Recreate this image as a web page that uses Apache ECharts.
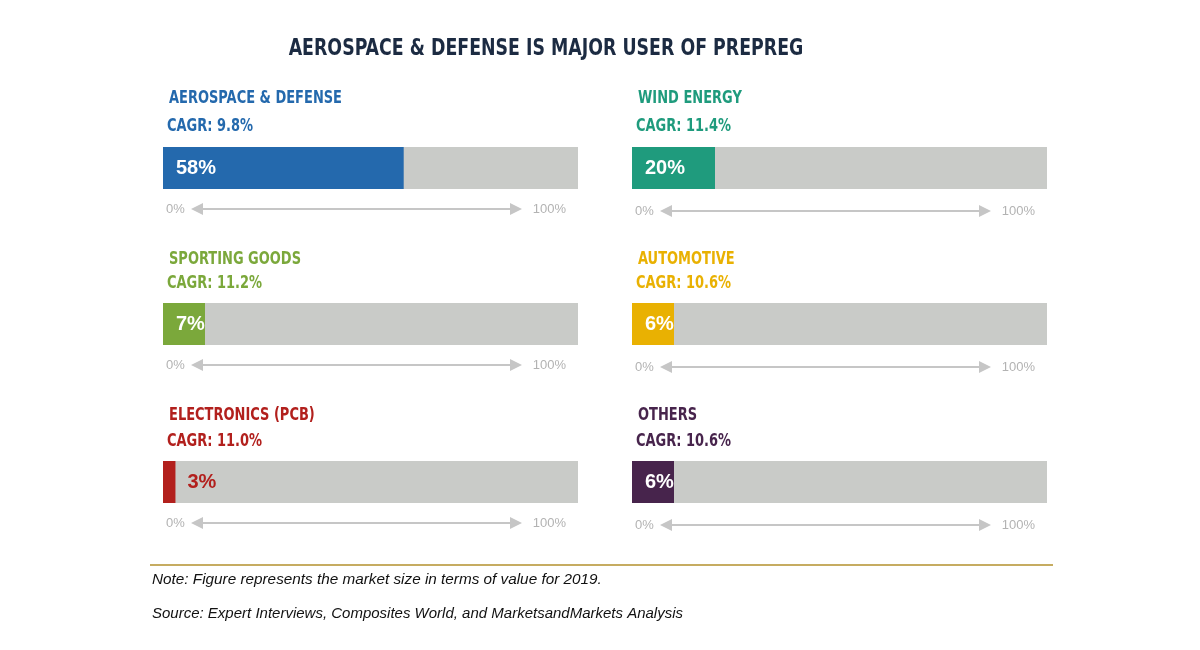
<!DOCTYPE html>
<html>
<head>
<meta charset="utf-8">
<script src="https://cdn.jsdelivr.net/npm/echarts@6/dist/echarts.min.js"></script>
<style>
html,body{margin:0;padding:0;background:#fff;}
#chart{width:1200px;height:650px;}
</style>
</head>
<body>
<div id="chart"></div>
<script>
// ---- data ----
const categories = ['AEROSPACE & DEFENSE', 'WIND ENERGY', 'SPORTING GOODS', 'AUTOMOTIVE', 'ELECTRONICS (PCB)', 'OTHERS'];
const shares = [58, 20, 7, 6, 3, 6];
const cagr = [9.8, 11.4, 11.2, 10.6, 11.0, 10.6];
const axisTickLabels = ['0%', '100%'];
const chartTitle = 'AEROSPACE & DEFENSE IS MAJOR USER OF PREPREG';
const noteText = 'Note: Figure represents the market size in terms of value for 2019.';
const sourceText = 'Source: Expert Interviews, Composites World, and MarketsandMarkets Analysis';

// ---- styles / layout ----
const colors = ['#2469ad', '#1f9b7d', '#7ba83b', '#e9b102', '#b2201d', '#47244c'];
const COND = '"DejaVu Sans Condensed", "DejaVu Sans", sans-serif';
const colLeft = [163, 632];
const barTop = [147, 303, 461];
const nameY = [99, 260, 416];
const cagrY = [127, 284, 442];
const BAR_W = 415, BAR_H = 42;
const SQUEEZE = 0.85;
const track = '#c9cbc8';
const axisGray = '#c6c6c6';

const chart = echarts.init(document.getElementById('chart'));

const grids = [], xAxes = [], yAxes = [], series = [], graphics = [];

categories.forEach((cat, i) => {
  const col = i % 2, row = Math.floor(i / 2);
  const left = colLeft[col], top = barTop[row];
  const inside = shares[i] >= 5;
  grids.push({left: left, top: top, width: BAR_W, height: BAR_H});
  xAxes.push({gridIndex: i, type: 'value', min: 0, max: 100, show: false});
  yAxes.push({gridIndex: i, type: 'category', data: [cat], show: false});
  series.push({
    type: 'bar', xAxisIndex: i, yAxisIndex: i,
    data: [shares[i]], barWidth: BAR_H,
    barMinHeight: inside ? 42 : 0,
    showBackground: true,
    backgroundStyle: {color: track},
    itemStyle: {color: colors[i]},
    silent: true,
    label: {
      show: true,
      position: inside ? 'insideLeft' : 'right',
      distance: inside ? 13 : 12,
      formatter: '{c}%',
      color: inside ? '#ffffff' : colors[i],
      fontFamily: '"Liberation Sans", Arial, sans-serif', fontWeight: 'bold', fontSize: 20
    }
  });
  // panel heading + CAGR
  graphics.push({type: 'text', x: left + 6, y: nameY[row], scaleX: SQUEEZE,
    style: {text: cat, fill: colors[i], font: 'bold 17px ' + COND, textVerticalAlign: 'middle'}});
  graphics.push({type: 'text', x: left + 4, y: cagrY[row], scaleX: SQUEEZE,
    style: {text: 'CAGR: ' + cagr[i].toFixed(1) + '%', fill: colors[i], font: 'bold 17px ' + COND, textVerticalAlign: 'middle'}});
  // scale arrow under each bar
  const ay = top + BAR_H + 20 + (col === 1 ? 2 : 0);
  const x0 = left + 28, x1 = left + 359;
  graphics.push({type: 'line', shape: {x1: x0 + 8, y1: ay, x2: x1 - 8, y2: ay},
    style: {stroke: axisGray, lineWidth: 2}});
  graphics.push({type: 'polygon', shape: {points: [[x0, ay], [x0 + 12, ay - 6], [x0 + 12, ay + 6]]},
    style: {fill: axisGray}});
  graphics.push({type: 'polygon', shape: {points: [[x1, ay], [x1 - 12, ay - 6], [x1 - 12, ay + 6]]},
    style: {fill: axisGray}});
  graphics.push({type: 'text', x: left + 3, y: ay, style: {text: axisTickLabels[0], fill: '#b3b3b3',
    font: '13px "Liberation Sans", sans-serif', textVerticalAlign: 'middle', textAlign: 'left'}});
  graphics.push({type: 'text', x: left + 403, y: ay, style: {text: axisTickLabels[1], fill: '#b3b3b3',
    font: '13px "Liberation Sans", sans-serif', textVerticalAlign: 'middle', textAlign: 'right'}});
});

// title
graphics.push({type: 'text', x: 546, y: 49, scaleX: 0.84, style: {text: chartTitle, fill: '#1c2b42',
  font: 'bold 23px ' + COND, textAlign: 'center', textVerticalAlign: 'middle'}});
// divider
graphics.push({type: 'line', shape: {x1: 150, y1: 565, x2: 1053, y2: 565},
  style: {stroke: '#b3902c', lineWidth: 1.5}});
// notes
graphics.push({type: 'text', x: 152, y: 580, style: {text: noteText, fill: '#111',
  font: 'italic 15.3px "Liberation Sans", sans-serif', textVerticalAlign: 'middle'}});
graphics.push({type: 'text', x: 152, y: 614, style: {text: sourceText, fill: '#111',
  font: 'italic 15px "Liberation Sans", sans-serif', textVerticalAlign: 'middle'}});

chart.setOption({
  backgroundColor: '#ffffff',
  animation: false,
  grid: grids, xAxis: xAxes, yAxis: yAxes, series: series,
  graphic: graphics
});
</script>
</body>
</html>
